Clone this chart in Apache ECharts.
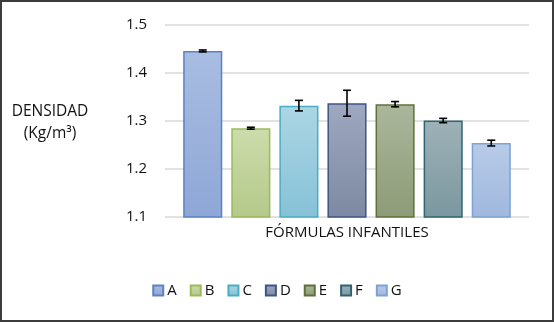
<!DOCTYPE html>
<html>
<head>
<meta charset="utf-8">
<script src="https://cdn.jsdelivr.net/npm/echarts@6/dist/echarts.min.js"></script>
<style>
  html, body { margin: 0; padding: 0; background: #fff; }
  #chart { width: 554px; height: 322px; box-sizing: border-box; border: 2px solid #3c3c3c; }
</style>
</head>
<body>
<div id="chart"></div>
<script>
// Density of infant formulas, mean ± error per formula
const categories = ['FÓRMULAS INFANTILES'];
const formulas = ['A', 'B', 'C', 'D', 'E', 'F', 'G'];
const densities = [1.446, 1.285, 1.332, 1.337, 1.335, 1.301, 1.254];
const errors = [0.002, 0.002, 0.011, 0.027, 0.0055, 0.0045, 0.006];
const yTicks = [1.1, 1.2, 1.3, 1.4, 1.5];

// fill gradient (top, bottom) and border per formula
const fills = [
  ['#a9bde2', '#8ea7d6'],
  ['#cddcab', '#b4c98a'],
  ['#acd6e4', '#86c1d7'],
  ['#9ea9c0', '#7d88a2'],
  ['#abb79b', '#8d9b77'],
  ['#9db2b7', '#7b979f'],
  ['#b8cbe8', '#a0b8df']
];
const borders = ['#5b83c2', '#9bbb59', '#4bacc6', '#3d5584', '#5f7138', '#2f6572', '#7ea2d4'];

const BAR_W = 0.1074;   // bar width as fraction of the category band
const BAR_GAP = 0.23;   // gap between bars as fraction of bar width

const chart = echarts.init(document.getElementById('chart'), null, { renderer: 'canvas' });

const barSeries = formulas.map((name, i) => ({
  name: name,
  type: 'bar',
  data: [densities[i]],
  barWidth: (BAR_W * 100).toFixed(2) + '%',
  barGap: (BAR_GAP * 100) + '%',
  itemStyle: {
    color: new echarts.graphic.LinearGradient(0, 0, 0, 1, [
      { offset: 0, color: fills[i][0] },
      { offset: 1, color: fills[i][1] }
    ]),
    borderColor: borders[i],
    borderWidth: 1.5
  },
  emphasis: { disabled: true }
}));

const errorSeries = {
  type: 'custom',
  silent: true,
  z: 5,
  data: formulas.map((f, i) => [0, densities[i], errors[i], i]),
  renderItem: function (params, api) {
    const val = api.value(1), err = api.value(2), idx = api.value(3);
    const band = api.size([1, 0])[0];
    const barW = band * BAR_W;
    const step = barW * (1 + BAR_GAP);
    const center = api.coord([0, val]);
    const x = center[0] + (idx - (formulas.length - 1) / 2) * step;
    const yHi = api.coord([0, val + err])[1];
    const yLo = api.coord([0, val - err])[1];
    const cap = 4;
    const style = { stroke: '#000', lineWidth: 1.6 };
    return {
      type: 'group',
      children: [
        { type: 'line', shape: { x1: x, y1: yHi, x2: x, y2: yLo }, style: style },
        { type: 'line', shape: { x1: x - cap, y1: yHi, x2: x + cap, y2: yHi }, style: style },
        { type: 'line', shape: { x1: x - cap, y1: yLo, x2: x + cap, y2: yLo }, style: style }
      ]
    };
  }
};

chart.setOption({
  animation: false,
  textStyle: { fontFamily: 'Open Sans' },
  grid: { left: 163, right: 23, top: 23, bottom: 103 },
  legend: {
    data: formulas,
    bottom: 17,
    left: 'center',
    itemWidth: 10,
    itemHeight: 10,
    itemGap: 13,
    icon: 'rect',
    textStyle: { fontSize: 15, color: '#111', fontFamily: 'Open Sans', padding: [0, 0, 0, -1] }
  },
  xAxis: {
    type: 'category',
    data: categories,
    axisLine: { show: false },
    axisTick: { show: false },
    axisLabel: { fontSize: 15, color: '#111', margin: 8 }
  },
  yAxis: {
    type: 'value',
    min: yTicks[0],
    max: yTicks[yTicks.length - 1],
    interval: 0.1,
    axisLine: { show: false },
    axisTick: { show: false },
    axisLabel: { fontSize: 15, color: '#111', margin: 18, formatter: v => v.toFixed(1) },
    splitLine: { lineStyle: { color: '#d9d9d9', width: 1.5 } }
  },
  graphic: [
    {
      type: 'text',
      x: 48,
      y: 99,
      style: {
        text: 'DENSIDAD\n(Kg/m³)',
        align: 'center',
        verticalAlign: 'top',
        fontSize: 15.5,
        lineHeight: 22,
        fill: '#111',
        fontFamily: 'Open Sans'
      }
    }
  ],
  series: [...barSeries, errorSeries]
});
</script>
</body>
</html>
